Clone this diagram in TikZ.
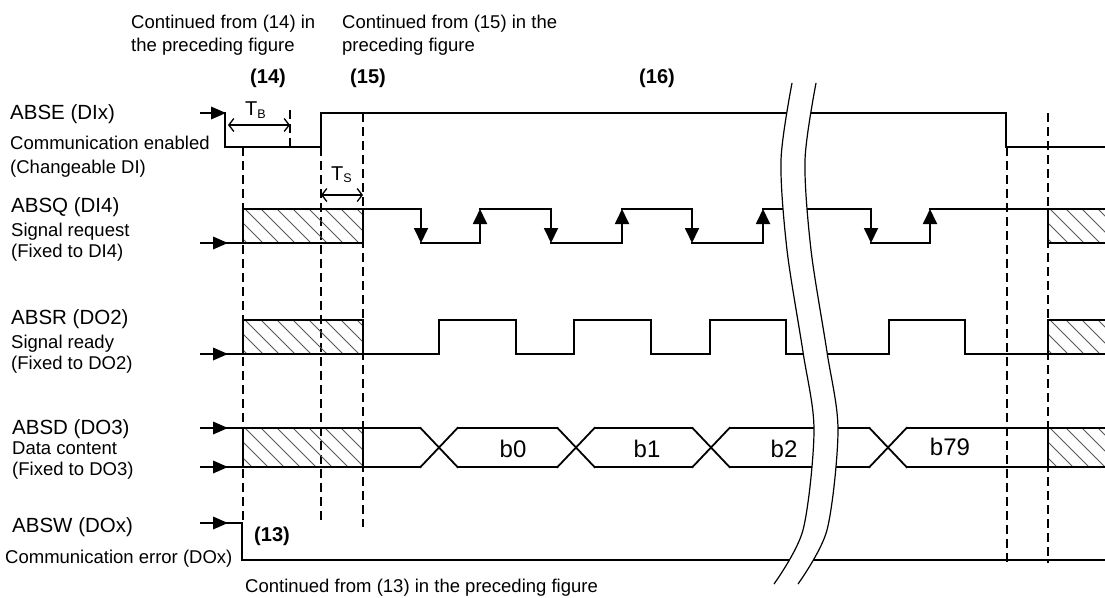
\documentclass[tikz,border=0pt]{standalone}
\usepackage{fontspec}
\setmainfont{Liberation Sans}
\usetikzlibrary{arrows.meta}
\tikzset{
 sig/.style={line width=1.8pt, line cap=rect},
 dsh/.style={line width=1.2pt, dash pattern=on 9pt off 5pt},
 brk/.style={line width=1.2pt},
 hatchln/.style={line width=0.8pt, draw=black!65},
 tip/.style={-{Triangle[length=15pt,width=14pt]}},
 intip/.style={line width=1.8pt, -{Triangle[length=15pt,width=12.5pt]}},
 tarr/.style={line width=1.3pt, {Straight Barb[length=5pt,width=13pt]}-{Straight Barb[length=5pt,width=13pt]}},
 ttl/.style={inner sep=0pt, anchor=west, font=\fontsize{20.5}{24}\selectfont, text height=18.5pt, text depth=4pt},
 lbl/.style={inner sep=0pt, anchor=west, font=\fontsize{18.5}{24}\selectfont, text height=17pt, text depth=4pt},
 num/.style={inner sep=0pt, font=\bfseries\fontsize{20}{24}\selectfont},
 bit/.style={inner sep=0pt, font=\fontsize{24}{28}\selectfont},
}
\newcommand\hatchbox[4]{%
 \begin{scope}
 \clip (#1,#2) rectangle (#3,#4);
 \foreach \k in {-4,...,9} \draw[hatchln] ({#1+2+16*\k},#2) -- ({#1+2+16*\k+(#4-#2)},#4);
 \end{scope}
 \draw[sig] (#1,#2) rectangle (#3,#4);}
\newcommand\sigdn[1]{\draw[sig,tip] (#1,209) -- (#1,243);}
\newcommand\sigup[1]{\draw[sig,tip] (#1,243) -- (#1,209);}
\newcommand\dxing[1]{\draw[sig] ({#1-18.5},428) -- ({#1+18.5},467); \draw[sig] ({#1-18.5},467) -- ({#1+18.5},428);}
\begin{document}
\begin{tikzpicture}[x=1pt,y=-1pt]
\fill[white] (0,0) rectangle (1105,597);
\useasboundingbox (0,0) rectangle (1105,597);

% top texts
\node[lbl] (c14a) at (131,22) {Continued from (14) in};
\node[lbl] (c14b) at (131,45) {the preceding figure};
\node[lbl] (c15a) at (342,22) {Continued from (15) in the};
\node[lbl] (c15b) at (342,45) {preceding figure};
\node[num] (n14) at (268,78) {(14)};
\node[num] (n15) at (368,78) {(15)};
\node[num] (n16) at (657,78) {(16)};

% left labels
\node[ttl] (abse) at (10,112) {ABSE (DIx)};
\node[lbl] (abse1) at (10,143) {Communication enabled};
\node[lbl] (abse2) at (10,167) {(Changeable DI)};
\node[ttl] (absq) at (11,205) {ABSQ (DI4)};
\node[lbl] (absq1) at (11,230) {Signal request};
\node[lbl] (absq2) at (11,251) {(Fixed to DI4)};
\node[ttl] (absr) at (11,317) {ABSR (DO2)};
\node[lbl] (absr1) at (11,342) {Signal ready};
\node[lbl] (absr2) at (11,363) {(Fixed to DO2)};
\node[ttl] (absd) at (12,427) {ABSD (DO3)};
\node[lbl] (absd1) at (12,448) {Data content};
\node[lbl] (absd2) at (12,469) {(Fixed to DO3)};
\node[ttl] (absw) at (12,525) {ABSW (DOx)};
\node[lbl] (absw1) at (5,557) {Communication error (DOx)};
\node[num] (n13) at (272,536) {(13)};
\node[lbl] (c13) at (245,586) {Continued from (13) in the preceding figure};

% dashed guides
\draw[dsh] (290,110) -- (290,147);
\draw[dsh] (243,147) -- (243,523);
\draw[dsh] (321,147) -- (321,523);
\draw[dsh] (363,113) -- (363,527);
\draw[dsh] (1007,147) -- (1007,563);
\draw[dsh] (1048,113) -- (1048,563);

% timing labels
\node[inner sep=0pt, anchor=base west, font=\fontsize{20}{24}\selectfont] (tb) at (245,115) {T\raisebox{-3pt}{\fontsize{12.5}{14}\selectfont B}};
\draw[tarr] (228,125) -- (290,125);
\node[inner sep=0pt, anchor=base west, font=\fontsize{20}{24}\selectfont] (ts) at (331,180) {T\raisebox{-2pt}{\fontsize{12.5}{14}\selectfont S}};
\draw[tarr] (321,195) -- (363,195);

% ABSE
\draw[intip] (200,113) -- (226,113);
\draw[sig] (225,113) -- (225,147) -- (321,147) -- (321,113) -- (1006,113) -- (1006,147) -- (1105,147);

% ABSQ
\draw[intip] (200,243) -- (228,243);
\draw[sig] (222,243) -- (243,243);
\hatchbox{243}{209}{363}{243}
\draw[sig] (363,209) -- (421,209);
\sigdn{421}
\draw[sig] (421,243) -- (480,243);
\sigup{480}
\draw[sig] (480,209) -- (551,209);
\sigdn{551}
\draw[sig] (551,243) -- (622,243);
\sigup{622}
\draw[sig] (622,209) -- (692,209);
\sigdn{692}
\draw[sig] (692,243) -- (763,243);
\sigup{763}
\draw[sig] (763,209) -- (871,209);
\sigdn{871}
\draw[sig] (871,243) -- (930,243);
\sigup{930}
\draw[sig] (930,209) -- (1105,209);
\hatchbox{1048}{209}{1112}{243}

% ABSR
\draw[intip] (200,354) -- (228,354);
\draw[sig] (222,354) -- (243,354);
\hatchbox{243}{320}{363}{354}
\draw[sig] (363,354) -- (439,354) -- (439,320) -- (516,320) -- (516,354) -- (574,354) -- (574,320) -- (651,320) -- (651,354) -- (710,354) -- (710,320) -- (786,320) -- (786,354) -- (889,354) -- (889,320) -- (965,320) -- (965,354) -- (1105,354);
\hatchbox{1048}{320}{1112}{354}

% ABSD
\draw[intip] (200,428) -- (228,428);
\draw[sig] (222,428) -- (243,428);
\draw[intip] (200,467) -- (228,467);
\draw[sig] (222,467) -- (243,467);
\hatchbox{243}{428}{363}{467}
\draw[sig] (363,428) -- (420.5,428) (363,467) -- (420.5,467);
\dxing{439}
\draw[sig] (457.5,428) -- (557.5,428) (457.5,467) -- (557.5,467);
\dxing{576}
\draw[sig] (594.5,428) -- (692.5,428) (594.5,467) -- (692.5,467);
\dxing{711}
\draw[sig] (729.5,428) -- (869.5,428) (729.5,467) -- (869.5,467);
\dxing{888}
\draw[sig] (906.5,428) -- (1105,428) (906.5,467) -- (1105,467);
\hatchbox{1048}{428}{1112}{467}
\node[bit] (b0) at (513,449) {b0};
\node[bit] (b1) at (647,449) {b1};
\node[bit] (b2) at (784,449) {b2};
\node[bit] (b79) at (950,447) {b79};

% ABSW
\draw[intip] (200,523) -- (228,523);
\draw[sig] (222,523) -- (242,523) -- (242,560) -- (1105,560);

% break
\fill[white] plot[smooth] coordinates {(792,83) (781,160) (787,250) (803,352) (814,430) (803,530) (774,584)}
  -- plot[smooth] coordinates {(798,584) (827,530) (838,430) (827,352) (811,250) (805,160) (816,83)} -- cycle;
\draw[brk] plot[smooth] coordinates {(792,83) (781,160) (787,250) (803,352) (814,430) (803,530) (774,584)};
\draw[brk] plot[smooth] coordinates {(816,83) (805,160) (811,250) (827,352) (838,430) (827,530) (798,584)};
\end{tikzpicture}
\end{document}
